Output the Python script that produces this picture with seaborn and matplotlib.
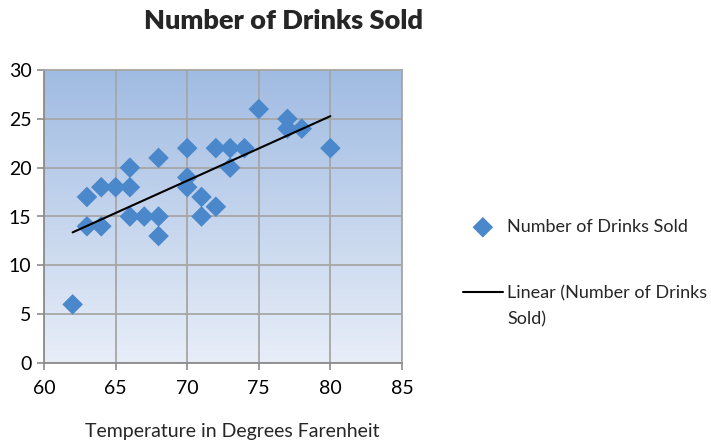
import numpy as np
import pandas as pd
import matplotlib
matplotlib.use("Agg")
import matplotlib.pyplot as plt
import seaborn as sns
from matplotlib.colors import LinearSegmentedColormap

# Daily temperature (°F) and drinks sold
temperature = [62, 63, 63, 64, 64, 65, 66, 66, 66, 67, 68, 68, 68,
               70, 70, 70, 71, 71, 72, 72, 73, 73, 74, 75, 77, 77, 78, 80]
drinks_sold = [6, 17, 14, 18, 14, 18, 20, 18, 15, 15, 21, 15, 13,
               22, 19, 18, 17, 15, 22, 16, 22, 20, 22, 26, 25, 24, 24, 22]

x_ticks = [60, 65, 70, 75, 80, 85]
y_ticks = [0, 5, 10, 15, 20, 25, 30]

df = pd.DataFrame({"Temperature": temperature, "Drinks": drinks_sold})

sns.set_theme(style="white")
plt.rcParams["font.family"] = ["Lato", "DejaVu Sans"]

fig = plt.figure(figsize=(7.11, 4.44), dpi=100)
ax = fig.add_axes([44 / 711, 1 - 363 / 444, (402 - 44) / 711, (363 - 70) / 444])

# vertical blue gradient behind the plot area
grad = LinearSegmentedColormap.from_list("bg", ["#e8eef8", "#a0bbe2"])
ax.imshow(np.linspace(0, 1, 256).reshape(-1, 1), cmap=grad, origin="lower",
          extent=[0, 1, 0, 1], transform=ax.transAxes, aspect="auto", zorder=0)

blue = "#4a88cb"
sns.scatterplot(data=df, x="Temperature", y="Drinks", ax=ax, marker="D",
                s=110, color=blue, edgecolor="none", zorder=3, legend=False)
points = ax.collections[-1]
sns.regplot(data=df, x="Temperature", y="Drinks", ax=ax, ci=None,
            scatter=False, line_kws=dict(color="black", lw=1.5, zorder=4))
trend = ax.lines[-1]

ax.set_xlim(60, 85)
ax.set_ylim(0, 30)
ax.set_xticks(x_ticks)
ax.set_yticks(y_ticks)
ax.grid(True, color="#a6a6a6", lw=1.3)
for line in ax.get_xgridlines() + ax.get_ygridlines():
    line.set_zorder(1)
for side, sp in ax.spines.items():
    sp.set_color("#a6a6a6")
    sp.set_linewidth(1.3)
ax.spines["left"].set_color("#8c8c8c")
ax.spines["bottom"].set_color("#8c8c8c")
ax.tick_params(axis="both", which="both", direction="out", length=5,
               width=1.2, color="#8c8c8c", labelsize=14, labelcolor="black",
               pad=4, bottom=True, left=True)
ax.tick_params(axis="x", pad=7)
ax.set_xlabel("Temperature in Degrees Farenheit", fontsize=14)
ax.xaxis.set_label_coords((232 - 44) / 358, -(431 - 363) / 293, transform=ax.transAxes)
ax.xaxis.label.set_va("center")
ax.set_ylabel("")

fig.text(283 / 711, 1 - 21 / 444, "Number of Drinks Sold", ha="center",
         va="center", fontsize=19.5, fontweight="heavy")

leg = ax.legend([points, trend],
                ["Number of Drinks Sold", "Linear (Number of Drinks"],
                loc="upper left",
                bbox_to_anchor=(463 / 711, 1 - 219 / 444),
                bbox_transform=fig.transFigure, frameon=False, fontsize=13,
                handlelength=2.2, handletextpad=0.25, labelspacing=2.78,
                borderpad=0, borderaxespad=0)

# continuation line of the trend-line legend label
fig.canvas.draw()
bb = leg.get_texts()[1].get_window_extent()
fig.text(bb.x0 / fig.bbox.width, (bb.y0 - 10) / fig.bbox.height, "Sold)",
         ha="left", va="top", fontsize=13)

fig.savefig("out.png", dpi=100)
